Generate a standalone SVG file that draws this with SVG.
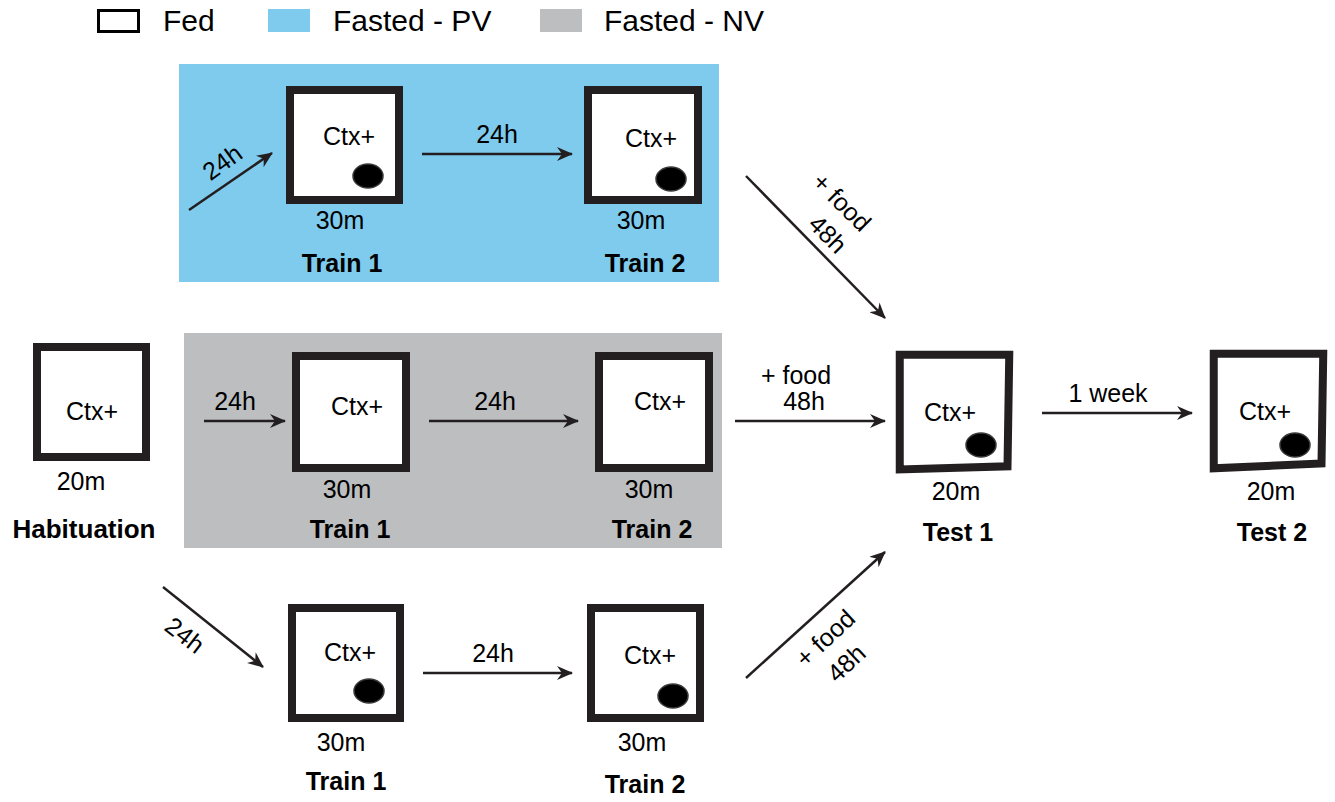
<svg xmlns="http://www.w3.org/2000/svg" width="1335" height="802" viewBox="0 0 1335 802">
<style>
.t{font-family:"Liberation Sans",Arial,sans-serif;font-size:25px;fill:#000}
.b{font-family:"Liberation Sans",Arial,sans-serif;font-size:25px;font-weight:bold;fill:#000}
.lg{font-family:"Liberation Sans",Arial,sans-serif;font-size:30px;fill:#000}
.box{fill:#fff;stroke:#231f20;stroke-width:8}
.dot{fill:#000;stroke:#3a3a3a;stroke-width:1.5}
.ar{fill:none;stroke:#231f20;stroke-width:2.5;marker-end:url(#ah)}
</style>
<defs>
<marker id="ah" viewBox="0 0 16 14" refX="15" refY="7" markerWidth="16" markerHeight="14" markerUnits="userSpaceOnUse" orient="auto">
<path d="M0,0 L16,7 L0,14 L5,7 z" fill="#231f20"/>
</marker>
</defs>
<rect width="1335" height="802" fill="#fff"/>
<g id="legend">
<rect x="98.5" y="10.5" width="40" height="21" fill="#fff" stroke="#000" stroke-width="3"/>
<text class="lg" x="163" y="31">Fed</text>
<rect x="268" y="9" width="42" height="23" fill="#7ecbed"/>
<text class="lg" x="333" y="31">Fasted - PV</text>
<rect x="540" y="9" width="42" height="23" fill="#bcbec0"/>
<text class="lg" x="604" y="31">Fasted - NV</text>
</g>
<g id="panels">
<rect id="panel-pv" x="179" y="64" width="540" height="218" fill="#7ecbed"/>
<rect id="panel-nv" x="184" y="333" width="538" height="215" fill="#bcbec0"/>
</g>
<g id="habituation">
<rect class="box" x="37" y="347" width="109" height="110"/>
<text class="t" x="92" y="420" text-anchor="middle">Ctx+</text>
<text class="t" x="81" y="490" text-anchor="middle">20m</text>
<text class="b" x="84" y="538" text-anchor="middle" style="font-size:26px">Habituation</text>
</g>
<g id="pv-train1">
<rect class="box" x="290" y="90" width="109" height="110"/>
<text class="t" x="349" y="145" text-anchor="middle">Ctx+</text>
<ellipse class="dot" cx="368" cy="176" rx="15" ry="12"/>
<text class="t" x="340" y="229" text-anchor="middle">30m</text>
<text class="b" x="342" y="272" text-anchor="middle">Train 1</text>
</g>
<g id="pv-train2">
<rect class="box" x="588" y="90" width="110" height="110"/>
<text class="t" x="651" y="147" text-anchor="middle">Ctx+</text>
<ellipse class="dot" cx="671" cy="179" rx="15" ry="12"/>
<text class="t" x="641" y="229" text-anchor="middle">30m</text>
<text class="b" x="645" y="272" text-anchor="middle">Train 2</text>
</g>
<g id="nv-train1">
<rect class="box" x="296" y="356" width="110" height="112"/>
<text class="t" x="357" y="415" text-anchor="middle">Ctx+</text>
<text class="t" x="347" y="498" text-anchor="middle">30m</text>
<text class="b" x="350" y="538" text-anchor="middle">Train 1</text>
</g>
<g id="nv-train2">
<rect class="box" x="599" y="356" width="110" height="112"/>
<text class="t" x="660" y="410" text-anchor="middle">Ctx+</text>
<text class="t" x="649" y="498" text-anchor="middle">30m</text>
<text class="b" x="652" y="538" text-anchor="middle">Train 2</text>
</g>
<g id="fed-train1">
<rect class="box" x="292" y="608" width="108" height="110"/>
<text class="t" x="350" y="661" text-anchor="middle">Ctx+</text>
<ellipse class="dot" cx="369" cy="691" rx="15" ry="12"/>
<text class="t" x="341" y="751" text-anchor="middle">30m</text>
<text class="b" x="346" y="790" text-anchor="middle">Train 1</text>
</g>
<g id="fed-train2">
<rect class="box" x="591" y="608" width="109" height="110"/>
<text class="t" x="650" y="664" text-anchor="middle">Ctx+</text>
<ellipse class="dot" cx="673" cy="696" rx="15" ry="12"/>
<text class="t" x="642" y="751" text-anchor="middle">30m</text>
<text class="b" x="645" y="793" text-anchor="middle">Train 2</text>
</g>
<g id="test1">
<path class="box" stroke-width="7.5" d="M899.75,354.75 L1009.25,354.75 L1007.5,466.25 L899.75,469.5 Z"/>
<text class="t" x="950" y="421" text-anchor="middle">Ctx+</text>
<ellipse class="dot" cx="981" cy="445" rx="15" ry="12"/>
<text class="t" x="956" y="500" text-anchor="middle">20m</text>
<text class="b" x="958" y="541" text-anchor="middle">Test 1</text>
</g>
<g id="test2">
<path class="box" stroke-width="7.5" d="M1213.75,353.75 L1323.25,353.75 L1321.5,463.5 L1213.75,468.25 Z"/>
<text class="t" x="1265" y="420" text-anchor="middle">Ctx+</text>
<ellipse class="dot" cx="1295" cy="445" rx="15" ry="12"/>
<text class="t" x="1271" y="500" text-anchor="middle">20m</text>
<text class="b" x="1272" y="541" text-anchor="middle">Test 2</text>
</g>
<g id="connectors">
<line class="ar" x1="189" y1="210" x2="272" y2="153"/>
<text class="t" transform="translate(222,162) rotate(-36)" y="9" text-anchor="middle">24h</text>
<line class="ar" x1="422" y1="154" x2="572" y2="154"/>
<text class="t" x="497" y="143" text-anchor="middle">24h</text>
<line class="ar" x1="746" y1="176" x2="885" y2="318"/>
<text class="t" transform="translate(842,202) rotate(45)" y="9" text-anchor="middle">+ food</text>
<text class="t" transform="translate(828,234) rotate(45)" y="9" text-anchor="middle">48h</text>
<line class="ar" x1="204" y1="421" x2="285" y2="421"/>
<text class="t" x="235" y="410" text-anchor="middle">24h</text>
<line class="ar" x1="429" y1="421" x2="578" y2="421"/>
<text class="t" x="495" y="410" text-anchor="middle">24h</text>
<line class="ar" x1="735" y1="421" x2="885" y2="421"/>
<text class="t" x="796" y="384" text-anchor="middle">+ food</text>
<text class="t" x="804" y="410" text-anchor="middle">48h</text>
<line class="ar" x1="1042" y1="413" x2="1192" y2="413"/>
<text class="t" x="1108" y="402" text-anchor="middle">1 week</text>
<line class="ar" x1="163" y1="587" x2="263" y2="667"/>
<text class="t" transform="translate(185,635) rotate(38)" y="9" text-anchor="middle">24h</text>
<line class="ar" x1="423" y1="673" x2="572" y2="673"/>
<text class="t" x="493" y="662" text-anchor="middle">24h</text>
<line class="ar" x1="746" y1="678" x2="885" y2="552"/>
<text class="t" transform="translate(825,638) rotate(-43)" y="9" text-anchor="middle">+ food</text>
<text class="t" transform="translate(846,663) rotate(-43)" y="9" text-anchor="middle">48h</text>
</g>
</svg>
